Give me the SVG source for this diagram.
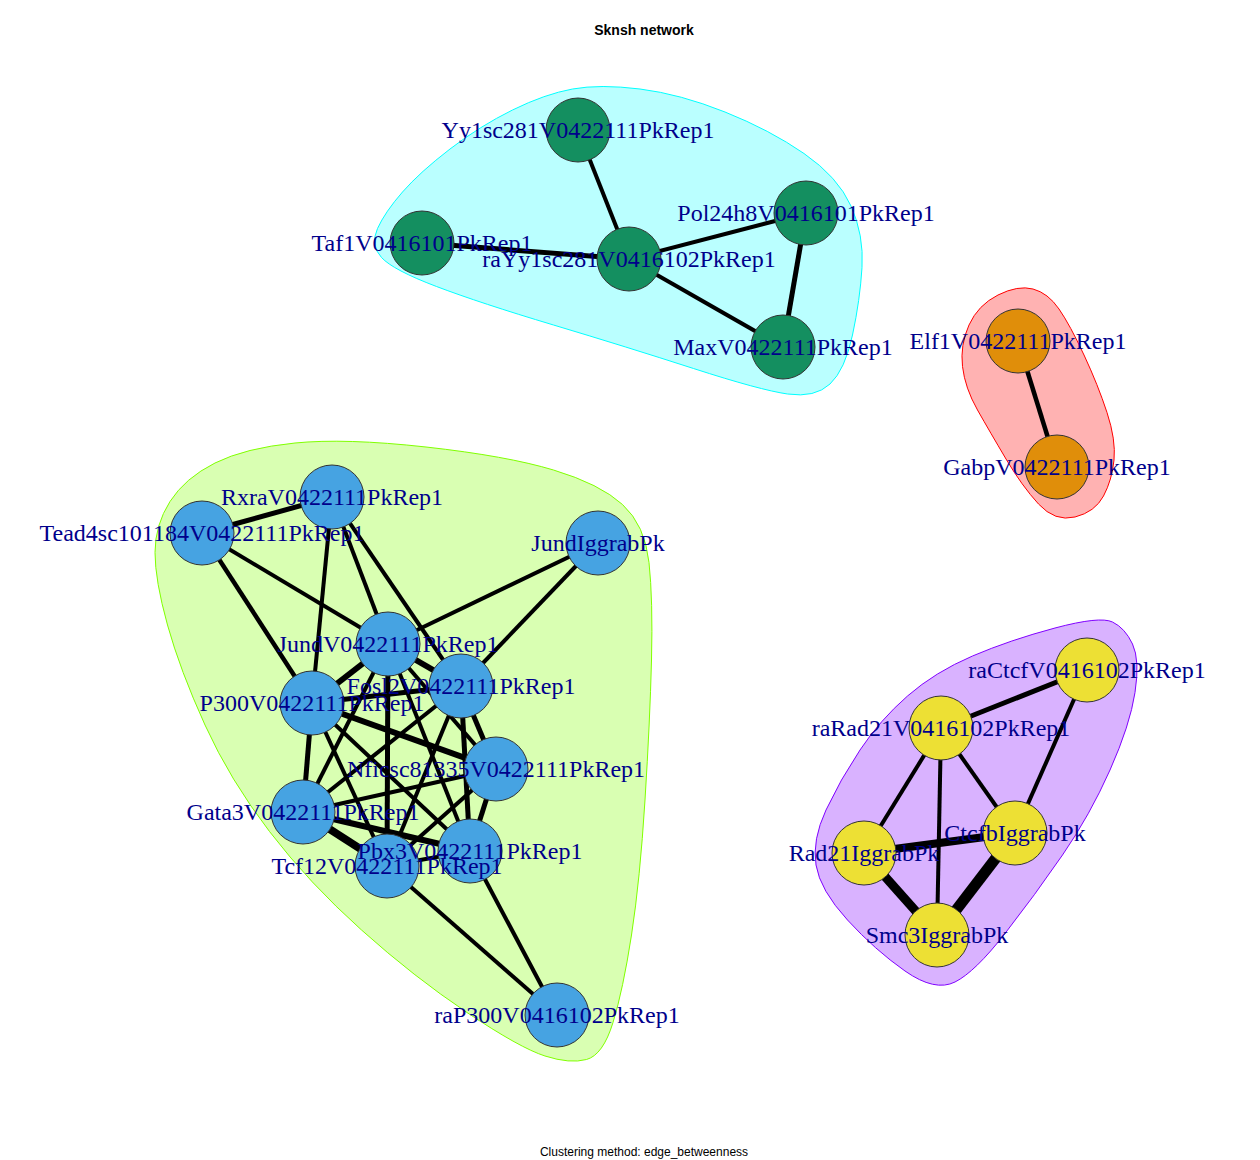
<svg xmlns="http://www.w3.org/2000/svg" width="1260" height="1160" viewBox="0 0 1260 1160">
<style>
.lbl{font-family:"Liberation Serif","Times New Roman",serif;font-size:24px;fill:#00008B;text-anchor:middle}
.n{stroke:#333333;stroke-width:1}
.g{fill:#148F60}.o{fill:#E08E0A}.b{fill:#46A3E2}.y{fill:#EDE034}
#edges line{stroke:#000;stroke-linecap:butt}
</style>
<rect width="1260" height="1160" fill="#ffffff"/>
<g id="hulls">
<path d="M 377.5 228.5 Q 385 212 402.5 192 Q 420 172 450 149 Q 480 126 512.5 110 Q 545 94 572.5 89 Q 600 84 640 89 Q 680 94 725 112 Q 770 130 804 153.5 Q 838 177 851 206 Q 864 235 862 267.5 Q 860 300 852.5 335 Q 845 370 830 384 Q 815 398 787.5 394 Q 760 390 693.5 368.5 Q 627 347 553.5 325 Q 480 303 436.5 286.5 Q 393 270 381.5 257.5 Q 370 245 377.5 228.5 Z" fill="#00FFFF" fill-opacity="0.27" stroke="#00FFFF" stroke-width="1"/>
<path d="M 1033 289 Q 1048 293 1059 309 Q 1070 325 1084 355 Q 1098 385 1107 412.5 Q 1116 440 1114 460 Q 1112 480 1103.5 496 Q 1095 512 1075 517 Q 1055 522 1038.5 504 Q 1022 486 1006 459 Q 990 432 977.5 410 Q 965 388 962.5 366.5 Q 960 345 969 325 Q 978 305 998 295 Q 1018 285 1033 289 Z" fill="#FF0000" fill-opacity="0.3" stroke="#FF0000" stroke-width="1"/>
<path d="M 426 447 Q 507 456 553.5 470 Q 600 484 622.5 504.5 Q 645 525 649 562.5 Q 653 600 651.5 660 Q 650 720 645 800 Q 640 880 631.5 935 Q 623 990 613 1022.5 Q 603 1055 586.5 1059.5 Q 570 1064 545 1056 Q 520 1048 467 1012.5 Q 414 977 361.5 930 Q 309 883 269.5 831.5 Q 230 780 205 725 Q 180 670 167.5 625 Q 155 580 155 552.5 Q 155 525 170 501.5 Q 185 478 215 463 Q 245 448 295 443 Q 345 438 426 447 Z" fill="#80FF00" fill-opacity="0.3" stroke="#80FF00" stroke-width="1"/>
<path d="M 1055 628 Q 1010 640 972.5 656 Q 935 672 907.5 696 Q 880 720 860 750 Q 840 780 826 810 Q 812 840 816 865 Q 820 890 847.5 920 Q 875 950 905 971 Q 935 992 955 982 Q 975 972 1005 933.5 Q 1035 895 1062.5 855 Q 1090 815 1110 770 Q 1130 725 1135 692.5 Q 1140 660 1132.5 644 Q 1125 628 1112.5 622 Q 1100 616 1055 628 Z" fill="#8000FF" fill-opacity="0.3" stroke="#8000FF" stroke-width="1"/>
</g>
<g id="edges">
<line x1="578" y1="130" x2="629" y2="259" stroke-width="4"/>
<line x1="422" y1="243" x2="629" y2="259" stroke-width="5"/>
<line x1="629" y1="259" x2="806" y2="213" stroke-width="4"/>
<line x1="629" y1="259" x2="783" y2="347" stroke-width="4"/>
<line x1="806" y1="213" x2="783" y2="347" stroke-width="5"/>
<line x1="1018" y1="341" x2="1057" y2="467" stroke-width="4.5"/>
<line x1="1087" y1="670" x2="941" y2="728" stroke-width="5"/>
<line x1="1087" y1="670" x2="1015" y2="833" stroke-width="4"/>
<line x1="941" y1="728" x2="864" y2="853" stroke-width="4"/>
<line x1="941" y1="728" x2="937" y2="935" stroke-width="4"/>
<line x1="941" y1="728" x2="1015" y2="833" stroke-width="4"/>
<line x1="864" y1="853" x2="1015" y2="833" stroke-width="8"/>
<line x1="864" y1="853" x2="937" y2="935" stroke-width="9"/>
<line x1="1015" y1="833" x2="937" y2="935" stroke-width="11"/>
<line x1="332" y1="497" x2="202" y2="533" stroke-width="5"/>
<line x1="332" y1="497" x2="388" y2="644" stroke-width="4"/>
<line x1="332" y1="497" x2="461" y2="686" stroke-width="4"/>
<line x1="332" y1="497" x2="312" y2="703" stroke-width="4"/>
<line x1="202" y1="533" x2="388" y2="644" stroke-width="4"/>
<line x1="202" y1="533" x2="312" y2="703" stroke-width="4.5"/>
<line x1="598" y1="543" x2="388" y2="644" stroke-width="4"/>
<line x1="598" y1="543" x2="461" y2="686" stroke-width="4"/>
<line x1="388" y1="644" x2="461" y2="686" stroke-width="6"/>
<line x1="388" y1="644" x2="312" y2="703" stroke-width="6"/>
<line x1="388" y1="644" x2="496" y2="769" stroke-width="4"/>
<line x1="388" y1="644" x2="303" y2="812" stroke-width="4"/>
<line x1="388" y1="644" x2="470" y2="851" stroke-width="4"/>
<line x1="388" y1="644" x2="387" y2="866" stroke-width="5"/>
<line x1="461" y1="686" x2="312" y2="703" stroke-width="5"/>
<line x1="461" y1="686" x2="496" y2="769" stroke-width="5"/>
<line x1="461" y1="686" x2="303" y2="812" stroke-width="4"/>
<line x1="461" y1="686" x2="470" y2="851" stroke-width="5"/>
<line x1="461" y1="686" x2="387" y2="866" stroke-width="4"/>
<line x1="312" y1="703" x2="496" y2="769" stroke-width="6"/>
<line x1="312" y1="703" x2="303" y2="812" stroke-width="5"/>
<line x1="312" y1="703" x2="470" y2="851" stroke-width="4"/>
<line x1="312" y1="703" x2="387" y2="866" stroke-width="4"/>
<line x1="496" y1="769" x2="303" y2="812" stroke-width="4"/>
<line x1="496" y1="769" x2="470" y2="851" stroke-width="5"/>
<line x1="496" y1="769" x2="387" y2="866" stroke-width="4"/>
<line x1="303" y1="812" x2="470" y2="851" stroke-width="6"/>
<line x1="303" y1="812" x2="387" y2="866" stroke-width="8"/>
<line x1="470" y1="851" x2="387" y2="866" stroke-width="4"/>
<line x1="470" y1="851" x2="557" y2="1015" stroke-width="4"/>
<line x1="387" y1="866" x2="557" y2="1015" stroke-width="4"/>
</g>
<g id="node-Yy1sc281V0422111PkRep1"><circle class="n g" cx="578" cy="130" r="32"/></g>
<g id="node-Taf1V0416101PkRep1"><circle class="n g" cx="422" cy="243" r="32"/></g>
<g id="node-raYy1sc281V0416102PkRep1"><circle class="n g" cx="629" cy="259" r="32"/></g>
<g id="node-Pol24h8V0416101PkRep1"><circle class="n g" cx="806" cy="213" r="32"/></g>
<g id="node-MaxV0422111PkRep1"><circle class="n g" cx="783" cy="347" r="32"/></g>
<g id="node-Elf1V0422111PkRep1"><circle class="n o" cx="1018" cy="341" r="32"/></g>
<g id="node-GabpV0422111PkRep1"><circle class="n o" cx="1057" cy="467" r="32"/></g>
<g id="node-raCtcfV0416102PkRep1"><circle class="n y" cx="1087" cy="670" r="32"/></g>
<g id="node-raRad21V0416102PkRep1"><circle class="n y" cx="941" cy="728" r="32"/></g>
<g id="node-CtcfbIggrabPk"><circle class="n y" cx="1015" cy="833" r="32"/></g>
<g id="node-Rad21IggrabPk"><circle class="n y" cx="864" cy="853" r="32"/></g>
<g id="node-Smc3IggrabPk"><circle class="n y" cx="937" cy="935" r="32"/></g>
<g id="node-RxraV0422111PkRep1"><circle class="n b" cx="332" cy="497" r="32"/></g>
<g id="node-Tead4sc101184V0422111PkRep1"><circle class="n b" cx="202" cy="533" r="32"/></g>
<g id="node-JundIggrabPk"><circle class="n b" cx="598" cy="543" r="32"/></g>
<g id="node-JundV0422111PkRep1"><circle class="n b" cx="388" cy="644" r="32"/></g>
<g id="node-Fosl2V0422111PkRep1"><circle class="n b" cx="461" cy="686" r="32"/></g>
<g id="node-P300V0422111PkRep1"><circle class="n b" cx="312" cy="703" r="32"/></g>
<g id="node-Nficsc81335V0422111PkRep1"><circle class="n b" cx="496" cy="769" r="32"/></g>
<g id="node-Gata3V0422111PkRep1"><circle class="n b" cx="303" cy="812" r="32"/></g>
<g id="node-Pbx3V0422111PkRep1"><circle class="n b" cx="470" cy="851" r="32"/></g>
<g id="node-Tcf12V0422111PkRep1"><circle class="n b" cx="387" cy="866" r="32"/></g>
<g id="node-raP300V0416102PkRep1"><circle class="n b" cx="557" cy="1015" r="32"/></g>
<g id="labels">
<text class="lbl" x="578" y="138">Yy1sc281V0422111PkRep1</text>
<text class="lbl" x="422" y="251">Taf1V0416101PkRep1</text>
<text class="lbl" x="629" y="267">raYy1sc281V0416102PkRep1</text>
<text class="lbl" x="806" y="221">Pol24h8V0416101PkRep1</text>
<text class="lbl" x="783" y="355">MaxV0422111PkRep1</text>
<text class="lbl" x="1018" y="349">Elf1V0422111PkRep1</text>
<text class="lbl" x="1057" y="475">GabpV0422111PkRep1</text>
<text class="lbl" x="1087" y="678">raCtcfV0416102PkRep1</text>
<text class="lbl" x="941" y="736">raRad21V0416102PkRep1</text>
<text class="lbl" x="1015" y="841">CtcfbIggrabPk</text>
<text class="lbl" x="864" y="861">Rad21IggrabPk</text>
<text class="lbl" x="937" y="943">Smc3IggrabPk</text>
<text class="lbl" x="332" y="505">RxraV0422111PkRep1</text>
<text class="lbl" x="202" y="541">Tead4sc101184V0422111PkRep1</text>
<text class="lbl" x="598" y="551">JundIggrabPk</text>
<text class="lbl" x="388" y="652">JundV0422111PkRep1</text>
<text class="lbl" x="461" y="694">Fosl2V0422111PkRep1</text>
<text class="lbl" x="312" y="711">P300V0422111PkRep1</text>
<text class="lbl" x="496" y="777">Nficsc81335V0422111PkRep1</text>
<text class="lbl" x="303" y="820">Gata3V0422111PkRep1</text>
<text class="lbl" x="470" y="859">Pbx3V0422111PkRep1</text>
<text class="lbl" x="387" y="874">Tcf12V0422111PkRep1</text>
<text class="lbl" x="557" y="1023">raP300V0416102PkRep1</text>
</g>
<text x="644" y="35" font-family="'Liberation Sans',Arial,sans-serif" font-size="14" font-weight="bold" text-anchor="middle">Sknsh network</text>
<text x="644" y="1156" font-family="'Liberation Sans',Arial,sans-serif" font-size="12" text-anchor="middle">Clustering method: edge_betweenness</text>
</svg>
